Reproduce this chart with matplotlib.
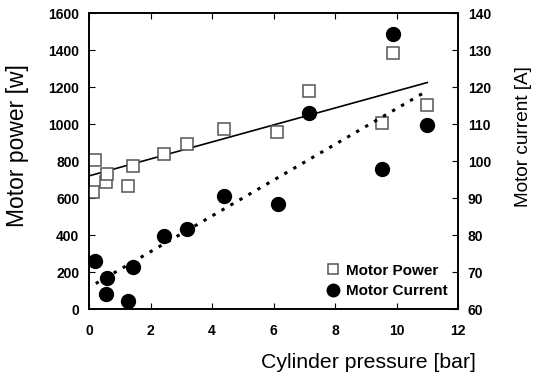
import numpy as np
import matplotlib
matplotlib.use('Agg')
import matplotlib.pyplot as plt

plt.rcParams['font.family'] = ['Liberation Sans', 'DejaVu Sans']

# Motor power data (left axis)
power_p = [0.14, 0.18, 0.54, 0.57, 1.28, 1.43, 2.44, 3.19, 4.40, 6.12, 7.16, 9.52, 9.90, 10.98]
power_w = [631, 804, 685, 733, 665, 771, 841, 892, 975, 958, 1180, 1005, 1384, 1106]

# Motor current data (right axis)
current_p = [0.18, 0.54, 0.59, 1.28, 1.44, 2.45, 3.20, 4.40, 6.16, 7.16, 9.52, 9.90, 10.98]
current_a = [72.9, 64.2, 68.3, 62.2, 71.4, 79.7, 81.7, 90.5, 88.5, 112.9, 97.8, 134.4, 109.7]

# trend lines (slope, intercept, x range)
power_fit = (45.9, 720)
power_fit_x = [0, 11]
current_fit = (4.835, 65.84)
current_fit_x = [0.22, 10.85]

fig = plt.figure(figsize=(5.34, 3.76), dpi=100)
ax = fig.add_axes([0.1667, 0.178, 0.691, 0.787])
ax2 = ax.twinx()

xl1 = np.array(power_fit_x)
xl2 = np.array(current_fit_x)
ax.plot(xl1, power_fit[0]*xl1 + power_fit[1], color='black', lw=1.2, zorder=2)
ax2.plot(xl2, current_fit[0]*xl2 + current_fit[1], color='black', lw=2.2,
         ls=(0, (1.1, 2.3)), zorder=2)

h1, = ax.plot(power_p, power_w, 's', ms=8.5, mfc='white', mec='#555555', mew=1.1,
              ls='none', label='Motor Power', zorder=3)
h2, = ax2.plot(current_p, current_a, 'o', ms=10, color='black', ls='none',
               label='Motor Current', zorder=3)

ax.set_xlim(0, 12)
ax.set_ylim(0, 1600)
ax2.set_ylim(60, 140)
ax.set_xticks(np.arange(0, 13, 2))
ax.set_yticks(np.arange(0, 1601, 200))
ax2.set_yticks(np.arange(60, 141, 10))

ax.tick_params(axis='x', direction='in', top=True, length=4, labelsize=10, pad=11)
ax.tick_params(axis='y', direction='in', length=4, labelsize=10, pad=7)
ax2.tick_params(axis='y', direction='in', length=4, labelsize=10, pad=7)
for lab in ax.get_xticklabels() + ax.get_yticklabels() + ax2.get_yticklabels():
    lab.set_fontweight('bold')

for a in (ax, ax2):
    for s in a.spines.values():
        s.set_linewidth(1.2)

# axis titles
ax.text(-0.194, 0.553, 'Motor power [w]', transform=ax.transAxes, rotation=90,
        ha='center', va='center', fontsize=16.5)
ax.text(1.177, 0.584, 'Motor current [A]', transform=ax.transAxes, rotation=90,
        ha='center', va='center', fontsize=13.7)
ax.text(0.756, -0.182, 'Cylinder pressure [bar]', transform=ax.transAxes,
        ha='center', va='center', fontsize=15.3)

leg = ax2.legend(handles=[h1, h2], loc='lower right', frameon=False,
                 prop={'weight': 'bold', 'size': 11}, handletextpad=0.3,
                 handlelength=1.0, borderaxespad=0.3, labelspacing=0.45,
                 markerscale=0.9)

fig.savefig('out.png', dpi=100)
